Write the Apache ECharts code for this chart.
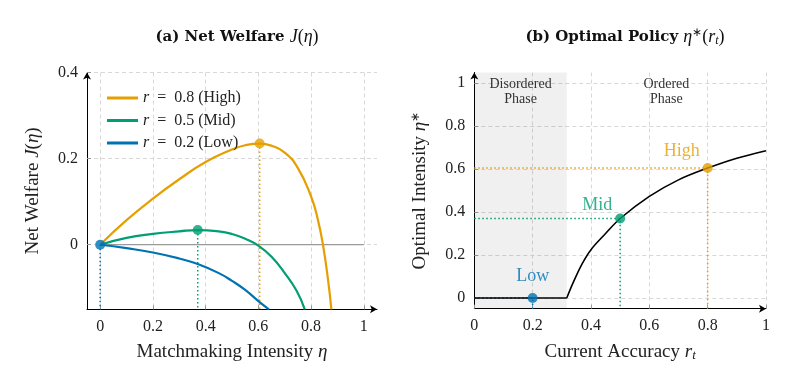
<!DOCTYPE html>
<html><head><meta charset="utf-8">
<script src="https://cdn.jsdelivr.net/npm/echarts@6/dist/echarts.min.js"></script>
<style>html,body{margin:0;padding:0;background:#fff}#c{width:793px;height:385px}</style>
</head><body><div id="c"></div>
<script>
// ---------- Panel (a): Net Welfare J(eta) ----------
const etaTicks = [0, 0.2, 0.4, 0.6, 0.8, 1];
const welfareTicks = [0, 0.2, 0.4];
const seriesNames = ['r = 0.8 (High)', 'r = 0.5 (Mid)', 'r = 0.2 (Low)'];

const highEta = [0, 0.1, 0.2, 0.3, 0.4, 0.5, 0.55, 0.605, 0.65, 0.7, 0.75, 0.8, 0.825, 0.845, 0.865, 0.877];
const highJ   = [0, 0.057, 0.107, 0.152, 0.192, 0.221, 0.231, 0.235, 0.230, 0.214, 0.178, 0.112, 0.060, 0.0, -0.085, -0.15];

const midEta = [0, 0.1, 0.2, 0.3, 0.37, 0.45, 0.5, 0.55, 0.6, 0.65, 0.7, 0.745, 0.776];
const midJ   = [0, 0.016, 0.025, 0.031, 0.034, 0.031, 0.025, 0.014, -0.002, -0.028, -0.066, -0.107, -0.15];

const lowEta = [0, 0.1, 0.2, 0.3, 0.37, 0.45, 0.5, 0.55, 0.6, 0.64];
const lowJ   = [0, -0.008, -0.018, -0.032, -0.045, -0.066, -0.084, -0.105, -0.131, -0.15];

const optEta = [0.605, 0.37, 0];     // optimum per r (High, Mid, Low)
const optJ   = [0.235, 0.034, 0];

// ---------- Panel (b): Optimal policy ----------
const accTicks = [0, 0.2, 0.4, 0.6, 0.8, 1];
const intensityTicks = [0, 0.2, 0.4, 0.6, 0.8, 1];
const flatR     = [0, 0.317];
const flatEta   = [0, 0];
const accR      = [0.317, 0.34, 0.37, 0.4, 0.45, 0.5, 0.6, 0.7, 0.8, 0.9, 1.0];
const policyEta = [0, 0.075, 0.16, 0.225, 0.30, 0.37, 0.473, 0.55, 0.605, 0.651, 0.686];
const caseNames = ['Low', 'Mid', 'High'];
const caseR     = [0.2, 0.5, 0.8];
const caseEta   = [0, 0.37, 0.605];
const criticalR = 0.317;
const phaseNames = ['Disordered\nPhase', 'Ordered\nPhase'];

// ---------- styling ----------
const C = { High: '#E69F00', Mid: '#009E73', Low: '#0072B2' };
const lineColors = [C.High, C.Mid, C.Low];
const caseColors = [C.Low, C.Mid, C.High];
const SERIF = 'Liberation Serif';
const aX = [-0.05, 1.05], aY = [-0.15, 0.4];
const bX = [0, 1], bY = [-0.05, 1.05];
const zip = (xs, ys) => xs.map((x, i) => [x, ys[i]]);

const richMath = {
  b: { fontFamily: 'DejaVu Serif', fontWeight: 'bold', fontSize: 15, color: '#111', lineHeight: 20 },
  n: { fontFamily: SERIF, fontWeight: 'normal', fontSize: 18, color: '#111', lineHeight: 20 },
  i: { fontFamily: SERIF, fontWeight: 'normal', fontStyle: 'italic', fontSize: 18, color: '#111', lineHeight: 20 },
  sup: { fontFamily: SERIF, fontWeight: 'normal', fontSize: 12, color: '#111', lineHeight: 12, verticalAlign: 'top' },
  sub: { fontFamily: SERIF, fontWeight: 'normal', fontStyle: 'italic', fontSize: 12, color: '#111', lineHeight: 8, verticalAlign: 'bottom' }
};
const nameRich = {
  n: { fontFamily: SERIF, fontSize: 19, color: '#222', lineHeight: 20 },
  i: { fontFamily: SERIF, fontStyle: 'italic', fontSize: 19, color: '#222', lineHeight: 20 },
  sup: { fontFamily: SERIF, fontSize: 12, color: '#222', lineHeight: 12, verticalAlign: 'top' },
  sub: { fontFamily: SERIF, fontStyle: 'italic', fontSize: 13, color: '#222', lineHeight: 8, verticalAlign: 'bottom' }
};

const gridLine = { show: true, lineStyle: { color: '#d8d8d8', type: [4, 3], width: 1 } };
const axisLine = { show: true, onZero: false, symbol: ['none', 'arrow'], symbolSize: [6, 7], lineStyle: { color: '#000', width: 1 } };
const tickLabel = (vals) => ({ customValues: vals, fontFamily: SERIF, fontSize: 16, color: '#222', margin: 9 });
const ticks = (vals) => ({ show: true, customValues: vals, inside: true, length: 4, lineStyle: { color: '#999' } });

function valueAxis(idx, ext, vals, name, nameGap) {
  return {
    type: 'value', gridIndex: idx, min: ext[0], max: ext[1],
    axisLine, axisTick: ticks(vals), axisLabel: tickLabel(vals), splitLine: gridLine,
    name, nameLocation: 'middle', nameGap, nameTextStyle: { rich: nameRich, fontFamily: SERIF, fontSize: 19 }
  };
}

const series = [];
// zero line (panel a)
series.push({ type: 'line', xAxisIndex: 0, yAxisIndex: 0, silent: true, symbol: 'none', z: 1,
  data: [[etaTicks[0], 0], [etaTicks[etaTicks.length - 1], 0]], lineStyle: { color: '#9a9a9a', width: 1.2 } });
// dotted drops (panel a)
optEta.forEach((e, i) => series.push({ type: 'line', xAxisIndex: 0, yAxisIndex: 0, silent: true, symbol: 'none', z: 2,
  data: [[e, optJ[i]], [e, aY[0]]], lineStyle: { color: lineColors[i], width: 1.5, type: [1.5, 2.5] } }));
// curves
[[highEta, highJ], [midEta, midJ], [lowEta, lowJ]].forEach((d, i) => series.push({
  name: seriesNames[i], type: 'line', xAxisIndex: 0, yAxisIndex: 0, symbol: 'none', smooth: 0.5, z: 3,
  data: zip(d[0], d[1]), lineStyle: { color: lineColors[i], width: 2.2 }, itemStyle: { color: lineColors[i] }
}));
// optimum markers
series.push({ type: 'scatter', xAxisIndex: 0, yAxisIndex: 0, symbolSize: 10, z: 5,
  data: optEta.map((e, i) => ({ value: [e, optJ[i]], itemStyle: { color: lineColors[i] } })) });

// panel b
series.push({ type: 'line', xAxisIndex: 1, yAxisIndex: 1, symbol: 'none', z: 3,
  data: zip(flatR, flatEta), lineStyle: { color: '#000', width: 1.6 },
  markArea: { silent: true, label: { show: true, position: 'insideTop', distance: 4, fontFamily: SERIF, fontSize: 14, lineHeight: 15, color: '#333' },
    data: [
      [{ name: phaseNames[0], xAxis: bX[0], itemStyle: { color: 'rgba(0,0,0,0.06)' } }, { xAxis: criticalR }],
      [{ name: phaseNames[1], xAxis: criticalR, itemStyle: { color: 'rgba(0,0,0,0)' } }, { xAxis: bX[1] }]
    ] } });
series.push({ type: 'line', xAxisIndex: 1, yAxisIndex: 1, symbol: 'none', z: 3, smooth: 0.35,
  data: zip(accR, policyEta), lineStyle: { color: '#000', width: 1.6 } });
caseR.forEach((r, i) => series.push({ type: 'line', xAxisIndex: 1, yAxisIndex: 1, silent: true, symbol: 'none', z: 2,
  data: [[bX[0], caseEta[i]], [r, caseEta[i]], [r, bY[0]]], lineStyle: { color: caseColors[i], width: 1.5, type: [1.5, 2.5] } }));
const labelOffsets = [[0, -22], [-23, -13], [-26, -17]];
series.push({ type: 'scatter', xAxisIndex: 1, yAxisIndex: 1, symbolSize: 10, z: 5,
  data: caseR.map((r, i) => ({ value: [r, caseEta[i]], name: caseNames[i], itemStyle: { color: caseColors[i] },
    label: { show: true, position: 'inside', offset: labelOffsets[i], formatter: '{b}', fontFamily: SERIF, fontSize: 18, color: caseColors[i] } })) });

const option = {
  animation: false,
  backgroundColor: '#fff',
  title: [
    { text: '{b|(a) Net Welfare }{i|J}{n|(}{i|η}{n|)}', left: 232, top: 22, textAlign: 'center', textStyle: { rich: richMath } },
    { text: '{b|(b) Optimal Policy }{i|η}{sup|∗}{n|(}{i|r}{sub|t}{n|)}', left: 620, top: 22, textAlign: 'center', textStyle: { rich: richMath } }
  ],
  legend: {
    data: seriesNames, orient: 'vertical', left: 102, top: 85, itemWidth: 31, itemHeight: 3, itemGap: 6.5, icon: 'rect',
    formatter: (n) => n.replace(/^r/, '{i|r}').replace(' = ', '  =  '),
    textStyle: { fontFamily: SERIF, fontSize: 16, color: '#222', lineHeight: 16,
      rich: { i: { fontFamily: SERIF, fontStyle: 'italic', fontSize: 16, color: '#222' } } }
  },
  grid: [
    { left: 87, top: 72.5, width: 290, height: 236.8 },
    { left: 474.3, top: 72.5, width: 291.7, height: 236.2 }
  ],
  xAxis: [
    valueAxis(0, aX, etaTicks, '{n|Matchmaking Intensity }{i|η}', 33),
    valueAxis(1, bX, accTicks, '{n|Current Accuracy }{i|r}{sub|t}', 33)
  ],
  yAxis: [
    valueAxis(0, aY, welfareTicks, '{n|Net Welfare }{i|J}{n|(}{i|η}{n|)}', 44),
    valueAxis(1, bY, intensityTicks, '{n|Optimal Intensity }{i|η}{sup|∗}', 44)
  ],
  series
};
echarts.init(document.getElementById('c'), null, { renderer: 'canvas' }).setOption(option);
</script></body></html>
